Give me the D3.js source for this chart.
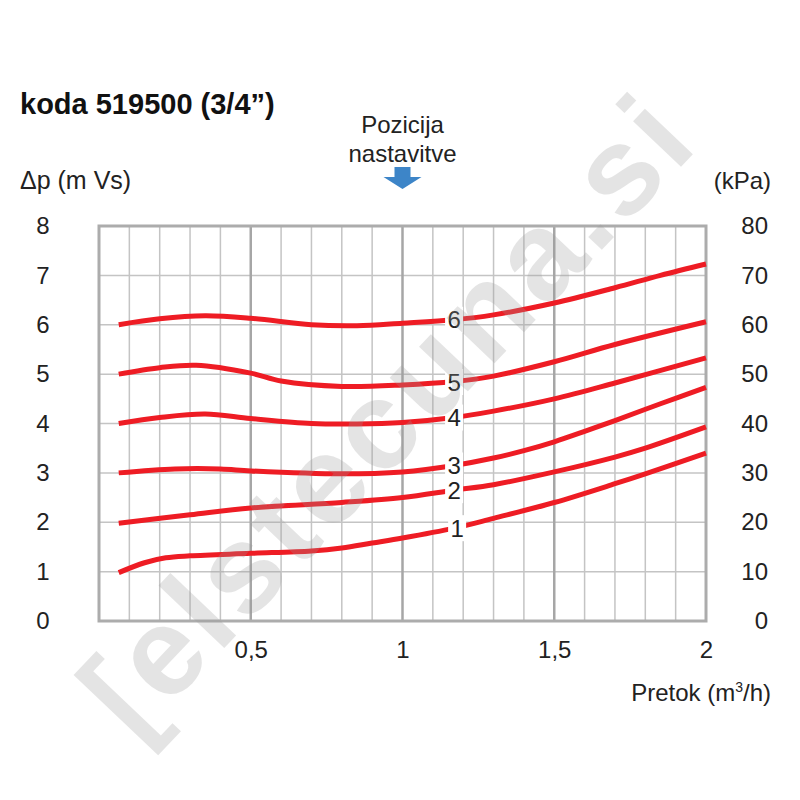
<!DOCTYPE html>
<html>
<head>
<meta charset="utf-8">
<script src="https://cdn.jsdelivr.net/npm/d3@7"></script>
<style>
  body { margin: 0; background: #fff; }
  svg { display: block; font-family: "Liberation Sans", Arial, sans-serif; }
  .tick text { font-size: 24px; fill: #222; }
</style>
</head>
<body>
<svg width="800" height="800"></svg>
<script>
// chart data (flow m3/h, pressure m Vs)
const curveNames = ["1", "2", "3", "4", "5", "6"];
const curve1 = [[0.065,0.98],[0.15,1.18],[0.22,1.28],[0.3,1.32],[0.5,1.37],[0.7,1.42],[0.8,1.48],[0.9,1.58],[1.0,1.68],[1.17,1.88],[1.3,2.08],[1.5,2.4],[1.7,2.78],[1.8,2.98],[2.0,3.4]];
const curve2 = [[0.065,1.98],[0.3,2.15],[0.5,2.29],[0.8,2.4],[1.0,2.5],[1.17,2.65],[1.3,2.76],[1.5,3.02],[1.7,3.32],[1.8,3.5],[2.0,3.93]];
const curve3 = [[0.065,3.0],[0.25,3.08],[0.4,3.08],[0.5,3.04],[0.8,2.98],[1.0,3.02],[1.17,3.15],[1.3,3.3],[1.4,3.45],[1.5,3.63],[1.6,3.84],[1.7,4.06],[1.85,4.4],[2.0,4.73]];
const curve4 = [[0.065,4.0],[0.2,4.12],[0.35,4.19],[0.5,4.1],[0.7,4.0],[0.85,3.99],[1.0,4.02],[1.17,4.12],[1.3,4.25],[1.5,4.5],[1.7,4.82],[2.0,5.33]];
const curve5 = [[0.065,5.0],[0.2,5.13],[0.32,5.18],[0.5,5.02],[0.6,4.86],[0.8,4.75],[1.0,4.78],[1.17,4.85],[1.3,4.96],[1.5,5.25],[1.7,5.6],[2.0,6.06]];
const curve6 = [[0.065,6.0],[0.2,6.12],[0.35,6.18],[0.5,6.13],[0.7,6.0],[0.85,5.98],[1.0,6.03],[1.17,6.1],[1.3,6.2],[1.5,6.44],[1.7,6.75],[1.85,7.0],[2.0,7.23]];
const curves = [curve1, curve2, curve3, curve4, curve5, curve6];
const labelFlow = [1.18, 1.17, 1.17, 1.17, 1.17, 1.17];
const labelPressure = [1.88, 2.65, 3.15, 4.12, 4.84, 6.1];
const xTicks = [0.5, 1, 1.5, 2];
const yTicks = [0, 1, 2, 3, 4, 5, 6, 7, 8];
const kpaTicks = [0, 10, 20, 30, 40, 50, 60, 70, 80];

// define constants
const svg = d3.select("svg");
const plotLeft = 99, plotRight = 706, plotTop = 226, plotBottom = 621;
const RED = "#ee1c24";

const x = d3.scaleLinear().domain([0, 2]).range([plotLeft, plotRight]);
const y = d3.scaleLinear().domain([0, 8]).range([plotBottom, plotTop]);
const y2 = d3.scaleLinear().domain([0, 80]).range([plotBottom, plotTop]);

// grid
const grid = svg.append("g");
grid.selectAll("line.minor")
  .data(d3.range(1, 20).map(i => i / 10).filter(v => Math.abs(v * 2 - Math.round(v * 2)) > 1e-6))
  .enter().append("line")
    .attr("x1", d => x(d)).attr("x2", d => x(d))
    .attr("y1", plotTop).attr("y2", plotBottom)
    .attr("stroke", "#c4c4c4").attr("stroke-width", 1.5);
grid.selectAll("line.h")
  .data(d3.range(1, 8))
  .enter().append("line")
    .attr("x1", plotLeft).attr("x2", plotRight)
    .attr("y1", d => y(d)).attr("y2", d => y(d))
    .attr("stroke", "#c4c4c4").attr("stroke-width", 1.5);
grid.selectAll("line.major")
  .data([0.5, 1, 1.5])
  .enter().append("line")
    .attr("x1", d => x(d)).attr("x2", d => x(d))
    .attr("y1", plotTop).attr("y2", plotBottom)
    .attr("stroke", "#a6a6a6").attr("stroke-width", 2.5);
grid.append("rect")
  .attr("x", plotLeft).attr("y", plotTop)
  .attr("width", plotRight - plotLeft).attr("height", plotBottom - plotTop)
  .attr("fill", "none").attr("stroke", "#acacac").attr("stroke-width", 3);

// axes
const axLeft = svg.append("g")
  .attr("transform", `translate(${plotLeft},0)`)
  .call(d3.axisLeft(y).tickValues(yTicks).tickSize(0).tickPadding(56));
axLeft.selectAll("text").attr("text-anchor", "middle");
const axRight = svg.append("g")
  .attr("transform", `translate(${plotRight},0)`)
  .call(d3.axisRight(y2).tickValues(kpaTicks).tickSize(0).tickPadding(62));
axRight.selectAll("text").attr("text-anchor", "end");
svg.append("g")
  .attr("transform", `translate(0,${plotBottom})`)
  .call(d3.axisBottom(x).tickValues(xTicks).tickSize(0).tickPadding(20)
    .tickFormat(d => String(d).replace(".", ",")));
svg.selectAll(".domain").remove();

// curves
const line = d3.line()
  .x(d => x(d[0]))
  .y(d => y(d[1]))
  .curve(d3.curveCatmullRom.alpha(0.5));

svg.append("g").selectAll("path")
  .data(curves)
  .enter().append("path")
    .attr("d", line)
    .attr("fill", "none")
    .attr("stroke", RED)
    .attr("stroke-width", 5);

// curve labels
const lbl = svg.append("g").selectAll("g")
  .data(curveNames)
  .enter().append("g")
    .attr("transform", (d, i) => `translate(${x(labelFlow[i])},${y(labelPressure[i])})`);
lbl.append("rect")
  .attr("x", -9).attr("y", -13).attr("width", 18).attr("height", 26)
  .attr("fill", "#fff");
lbl.append("text")
  .attr("text-anchor", "middle")
  .attr("dy", "0.36em")
  .attr("font-size", 24)
  .attr("fill", "#222")
  .text(d => d);

// titles
svg.append("text")
  .attr("x", 20).attr("y", 114)
  .attr("font-size", 29).attr("font-weight", "bold").attr("fill", "#111")
  .text("koda 519500 (3/4”)");
svg.append("text")
  .attr("x", 20).attr("y", 189)
  .attr("font-size", 25).attr("fill", "#222")
  .text("Δp (m Vs)");
svg.append("text")
  .attr("x", 771).attr("y", 189)
  .attr("text-anchor", "end")
  .attr("font-size", 24).attr("fill", "#222")
  .text("(kPa)");
svg.append("text")
  .attr("x", x(1)).attr("y", 133)
  .attr("text-anchor", "middle")
  .attr("font-size", 24).attr("fill", "#222")
  .text("Pozicija");
svg.append("text")
  .attr("x", x(1)).attr("y", 162)
  .attr("text-anchor", "middle")
  .attr("font-size", 24).attr("fill", "#222")
  .text("nastavitve");
const pt = svg.append("text")
  .attr("x", 771).attr("y", 701)
  .attr("text-anchor", "end")
  .attr("font-size", 24).attr("fill", "#222");
pt.append("tspan").text("Pretok (m");
pt.append("tspan").attr("font-size", 14).attr("dy", -9).text("3");
pt.append("tspan").attr("dy", 9).text("/h)");

// blue arrow above x = 1
const ax = x(1);
svg.append("path")
  .attr("d", `M${ax - 8},167 H${ax + 8} V177 H${ax + 19} L${ax},189 L${ax - 19},177 H${ax - 8} Z`)
  .attr("fill", "#3d85c8");

// watermark
svg.append("text")
  .attr("transform", "translate(385,415) rotate(-46.5)")
  .attr("text-anchor", "middle")
  .attr("dy", "0.35em")
  .attr("font-size", 125)
  .attr("font-weight", "bold")
  .attr("fill", "#9a9a9a")
  .attr("opacity", 0.26)
  .attr("textLength", 820)
  .text("[elstecuna.si");
</script>
</body>
</html>
